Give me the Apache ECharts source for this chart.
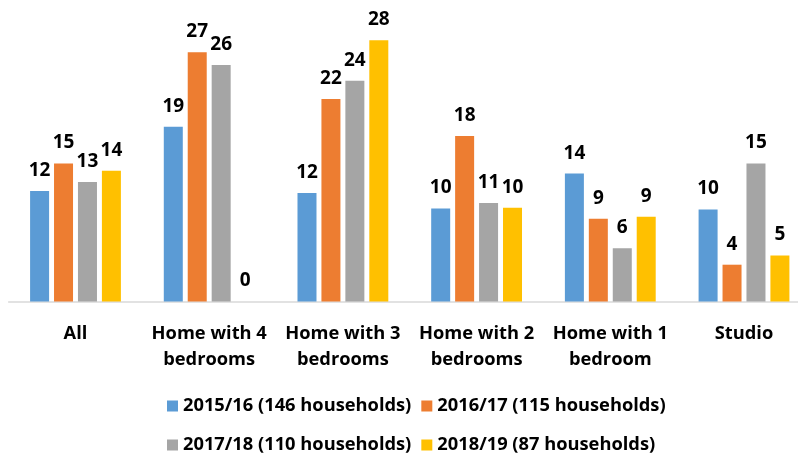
<!DOCTYPE html>
<html>
<head>
<meta charset="utf-8">
<script src="https://cdn.jsdelivr.net/npm/echarts@6/dist/echarts.min.js"></script>
<style>
html,body{margin:0;padding:0;background:#fff;}
#chart{width:798px;height:454px;}
</style>
</head>
<body>
<div id="chart"></div>
<script>
const categories = ['All', 'Home with 4\nbedrooms', 'Home with 3\nbedrooms', 'Home with 2\nbedrooms', 'Home with 1\nbedroom', 'Studio'];
const seriesNames = ['2015/16 (146 households)', '2016/17 (115 households)', '2017/18 (110 households)', '2018/19 (87 households)'];
const values2015 = [12.0, 19.0, 11.8, 10.1, 13.9, 10.0];
const values2016 = [15.0, 27.1, 22.0, 18.0, 9.0, 4.0];
const values2017 = [13.0, 25.7, 24.0, 10.7, 5.8, 15.0];
const values2018 = [14.2, 0, 28.4, 10.2, 9.2, 5.0];
const colors = ['#5B9BD5', '#ED7D31', '#A5A5A5', '#FFC000'];

const allValues = [values2015, values2016, values2017, values2018];
const font = '"Open Sans", sans-serif';

const chart = echarts.init(document.getElementById('chart'));
chart.setOption({
  animation: false,
  color: colors,
  grid: { left: 8.65, width: 802.2, top: 25.5, height: 276, containLabel: false, outerBoundsMode: 'none' },
  legend: [
    {
      data: [seriesNames[0], seriesNames[1]],
      left: 162, top: 391,
      itemWidth: 11, itemHeight: 11, icon: 'rect', itemGap: 10,
      textStyle: { fontFamily: font, fontWeight: 'bold', fontSize: 18.3, color: '#000', lineHeight: 20 }
    },
    {
      data: [seriesNames[2], seriesNames[3]],
      left: 162, top: 430,
      itemWidth: 11, itemHeight: 11, icon: 'rect', itemGap: 10,
      textStyle: { fontFamily: font, fontWeight: 'bold', fontSize: 18.3, color: '#000', lineHeight: 20 }
    }
  ],
  xAxis: {
    type: 'category',
    data: categories,
    axisLine: { lineStyle: { color: '#D9D9D9', width: 1.5 } },
    axisTick: { show: false },
    axisLabel: {
      margin: 19, interval: 0,
      fontFamily: font, fontWeight: 'bold', fontSize: 18.3, color: '#000', lineHeight: 26
    }
  },
  yAxis: { type: 'value', min: 0, max: 30, show: false, splitLine: { show: false } },
  series: allValues.map((vals, i) => ({
    name: seriesNames[i],
    type: 'bar',
    data: vals,
    barWidth: 19,
    barGap: '26%',
    itemStyle: { color: colors[i] },
    label: {
      show: true, position: 'top', distance: 11,
      formatter: p => String(Math.round(p.value)),
      fontFamily: font, fontWeight: 'bold', fontSize: 19, color: '#000'
    }
  }))
});
</script>
</body>
</html>
